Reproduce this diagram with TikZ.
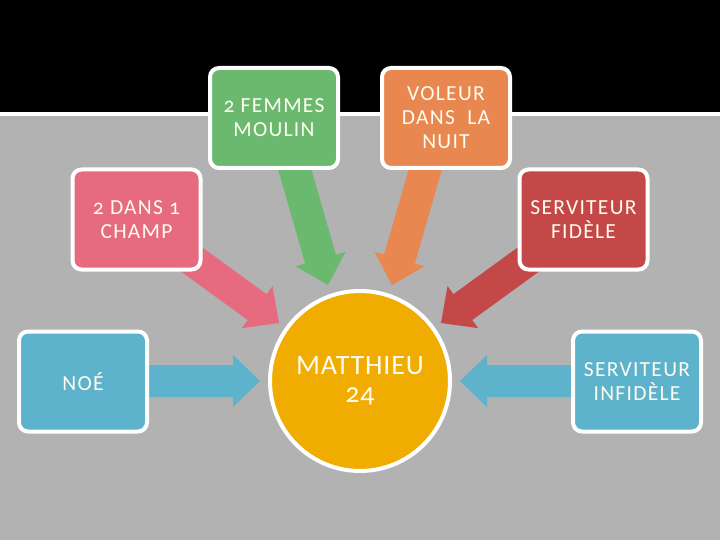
\documentclass[tikz,border=0pt]{standalone}
\usepackage{fontspec}
\setmainfont{Carlito}[Numbers=OldStyle]
\newfontfamily\boxfont{Carlito}[Numbers=OldStyle,LetterSpace=6]
\newfontfamily\hubfont{Carlito}[Numbers=OldStyle,LetterSpace=3]
\usetikzlibrary{calc}
\definecolor{bggray}{RGB}{178,178,178}
\definecolor{cgreen}{RGB}{107,185,110}
\definecolor{corange}{RGB}{232,135,79}
\definecolor{cpink}{RGB}{230,107,127}
\definecolor{cred}{RGB}{197,72,72}
\definecolor{cblue}{RGB}{93,178,204}
\definecolor{cyellow}{RGB}{240,172,0}
\definecolor{ctext}{RGB}{255,252,240}
\tikzset{
  box/.style={draw=white, line width=4pt, rounded corners=9pt,
    minimum width=128pt, minimum height=100pt, text=ctext,
    font=\boxfont\fontsize{21.5}{24}\selectfont, align=center, inner sep=0pt},
  hub/.style={circle, draw=white, line width=4pt, fill=cyellow,
    minimum size=180pt, text=ctext, font=\hubfont\fontsize{28}{28}\selectfont,
    align=center, inner sep=0pt},
}
% #1 colour, #2 start, #3 tip, #4 name
\newcommand\fatarrow[4]{%
  \coordinate (#4b) at ($(#3)!27pt!(#2)$);
  \fill[#1] ($(#2)!16pt!90:(#3)$) -- ($(#4b)!16pt!90:(#3)$)
    -- ($(#4b)!26pt!90:(#3)$) -- (#3) -- ($(#4b)!26pt!-90:(#3)$)
    -- ($(#4b)!16pt!-90:(#3)$) -- ($(#2)!16pt!-90:(#3)$) -- cycle;
}
\begin{document}
\begin{tikzpicture}[x=1pt,y=-1pt]
\useasboundingbox (0,0) rectangle (720,540);
\fill[bggray] (0,0) rectangle (720,540);
\fill[black] (0,0) rectangle (720,112);
\fill[white] (0,112) rectangle (720,116);

% arrow end points
\coordinate (gs) at (292,160);
\coordinate (gt) at (328,285);
\coordinate (os) at (428,160);
\coordinate (ot) at (392,285);
\coordinate (ps) at (180,251);
\coordinate (pt) at (279,323);
\coordinate (rs) at (540,251);
\coordinate (rt) at (441,323);
\coordinate (ns) at (140,381);
\coordinate (nt) at (260,381);
\coordinate (is) at (580,381);
\coordinate (it) at (460,381);

\fatarrow{cgreen}{gs}{gt}{ga}
\fatarrow{corange}{os}{ot}{oa}
\fatarrow{cpink}{ps}{pt}{pa}
\fatarrow{cred}{rs}{rt}{ra}
\fatarrow{cblue}{ns}{nt}{na}
\fatarrow{cblue}{is}{it}{ia}

\node[box, fill=cgreen] (femmes) at (274,118) {2 FEMMES\\MOULIN};
\node[box, fill=corange] (voleur) at (446,118) {VOLEUR\\DANS\ \ LA\\NUIT};
\node[box, fill=cpink] (champ) at (136.5,219.5) {2 DANS 1\\CHAMP};
\node[box, fill=cred] (fidele) at (583.5,219.5) {SERVITEUR\\FIDÈLE};
\node[box, fill=cblue] (noe) at (83,381.5) {NOÉ};
\node[box, fill=cblue] (infidele) at (637,381.5) {SERVITEUR\\INFIDÈLE};
\node[hub] (hub) at (360,381) {MATTHIEU\\24};
\end{tikzpicture}
\end{document}
